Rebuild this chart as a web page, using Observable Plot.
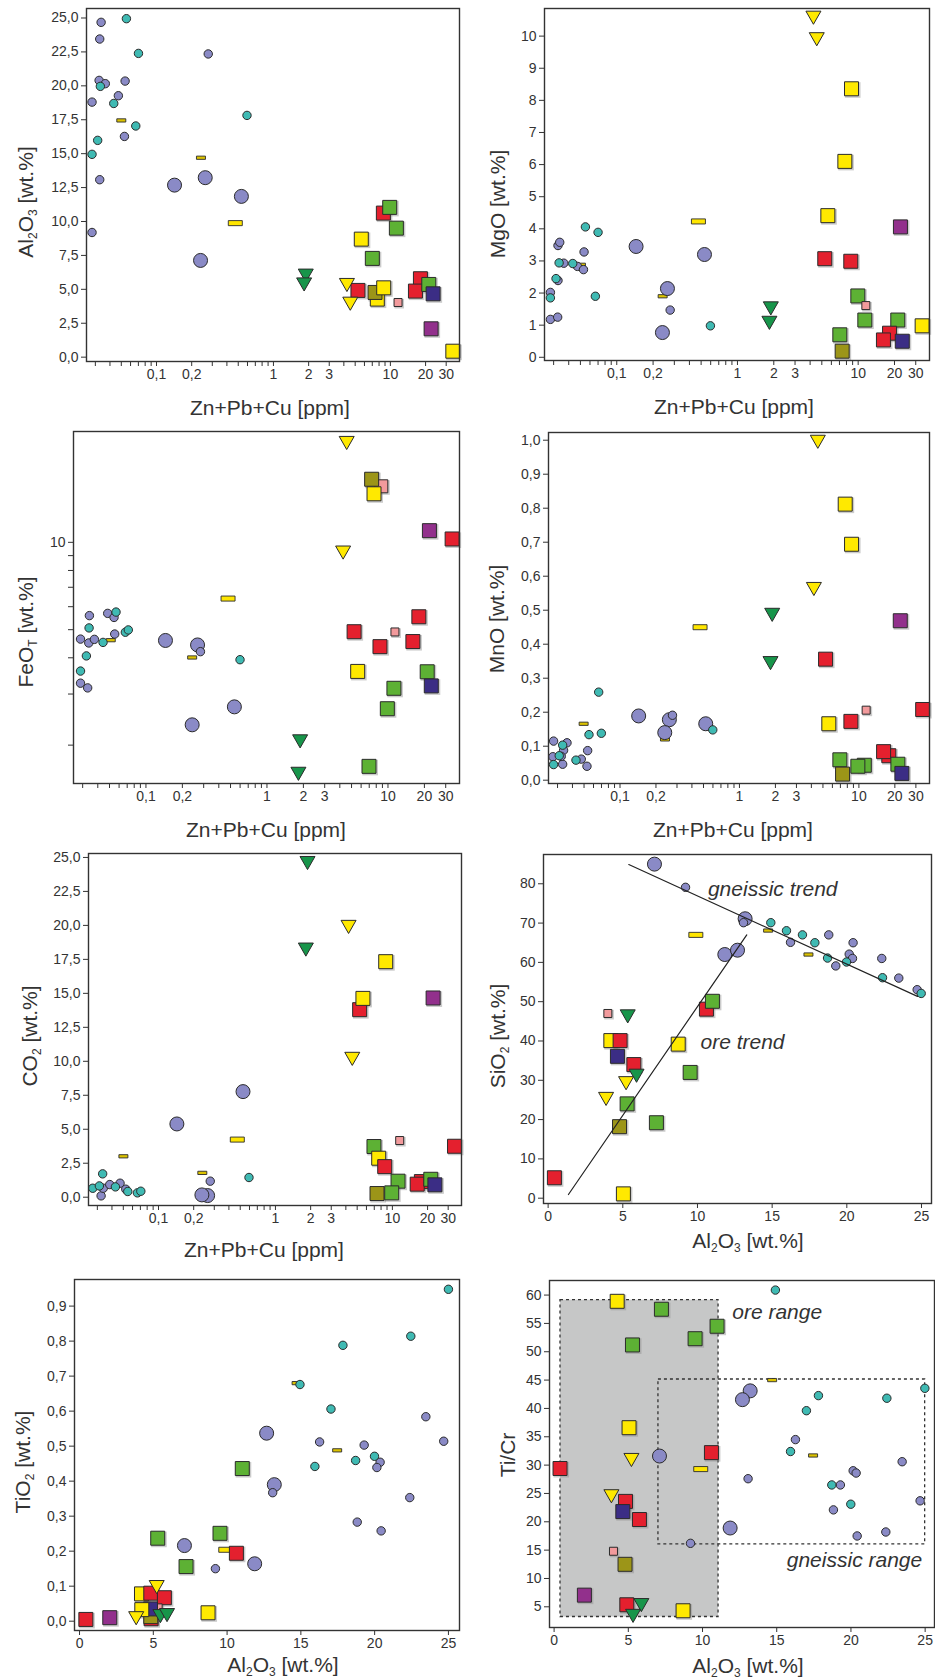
<!DOCTYPE html>
<html>
<head>
<meta charset="utf-8">
<script src="https://cdn.jsdelivr.net/npm/d3@7"></script>
<script src="https://cdn.jsdelivr.net/npm/@observablehq/plot@0.6"></script>
<style>
html, body { margin: 0; padding: 0; background: #fff; }
#page { position: relative; width: 935px; height: 1680px; overflow: hidden; background: #fff; font-family: "Liberation Sans", Arial, sans-serif; }
.panel { position: absolute; }
.panel svg { display: block; max-width: none !important; }
#titles { position: absolute; left: 0; top: 0; pointer-events: none; }
</style>
</head>
<body>
<div id="page"></div>
<script>
// ---------------- DATA (type code, x, y) ----------------
// type codes: GN big gneiss circle, gn small gneiss circle, tq teal circle,
// bL / bS yellow bars, sR sY sG sO sP sQ sM sB squares, tY tG down triangles

// Zn+Pb+Cu [ppm] vs Al2O3 [wt.%]
const zpc_al2o3 = [
  ["bS",0.050,17.45],["bS",0.240,14.7],["bL",0.472,9.88],
  ["GN",0.1426,12.68],["GN",0.261,13.23],["GN",0.532,11.85],["GN",0.238,7.13],
  ["gn",0.0336,24.68],["gn",0.0327,23.45],["gn",0.0323,20.4],["gn",0.0365,20.16],["gn",0.0539,20.35],["gn",0.0472,19.27],["gn",0.0281,18.8],["gn",0.0532,16.27],["gn",0.0327,13.08],["gn",0.0281,9.19],["gn",0.277,22.35],
  ["tq",0.0553,24.95],["tq",0.0701,22.39],["tq",0.0331,19.96],["tq",0.0431,18.7],["tq",0.0665,17.04],["tq",0.0314,15.98],["tq",0.0281,14.95],["tq",0.594,17.82],
  ["sY",5.64,8.7],["sG",7.01,7.28],["sR",8.71,10.62],["sG",9.87,11.04],["sG",11.25,9.51],["sR",5.28,4.92],["sY",7.73,4.28],["sO",7.39,4.77],["sY",8.77,5.11],["sP",11.63,4.03],["sR",18.07,5.78],["sR",16.38,4.87],["sG",21.3,5.36],["sB",23.2,4.67],["sM",22.3,2.09],["sY",34.2,0.44],
  ["tG",1.89,6.05],["tG",1.83,5.4],["tY",4.25,5.36],["tY",4.54,3.98]
];

// Zn+Pb+Cu [ppm] vs MgO [wt.%]
const zpc_mgo = [
  ["bS",0.0505,2.88],["bS",0.240,1.9],["bL",0.475,4.23],
  ["GN",0.1446,3.45],["GN",0.263,2.14],["GN",0.239,0.77],["GN",0.533,3.2],
  ["gn",0.0282,2.02],["gn",0.0282,1.18],["gn",0.0324,1.25],["gn",0.0326,3.48],["gn",0.0337,3.58],["gn",0.0364,2.93],["gn",0.0326,2.39],["gn",0.0472,2.83],["gn",0.0536,3.28],["gn",0.053,2.73],["gn",0.277,1.47],
  ["tq",0.0282,1.85],["tq",0.0314,2.45],["tq",0.0333,2.94],["tq",0.0432,2.92],["tq",0.055,4.06],["tq",0.070,3.89],["tq",0.0665,1.9],["tq",0.597,0.98],
  ["sY",8.81,8.36],["sY",7.76,6.1],["sY",5.61,4.41],["sR",5.29,3.07],["sR",8.69,2.99],["sM",22.4,4.06],["sG",9.94,1.91],["sP",11.58,1.61],["sG",11.36,1.16],["sG",21.3,1.16],["sG",7.05,0.7],["sO",7.37,0.19],["sR",18.2,0.75],["sR",16.2,0.54],["sB",23.2,0.5],["sY",33.9,0.98],
  ["tG",1.89,1.54],["tG",1.84,1.09],["tY",4.26,10.59],["tY",4.54,9.92]
];

// Zn+Pb+Cu [ppm] vs FeOT [wt.%]
const zpc_feot = [
  ["bS",0.0512,4.6],["bS",0.241,4.01],["bL",0.477,6.4],
  ["GN",0.145,4.59],["GN",0.267,4.43],["GN",0.241,2.35],["GN",0.538,2.71],
  ["gn",0.0288,4.64],["gn",0.0288,3.27],["gn",0.033,3.15],["gn",0.0337,4.5],["gn",0.0375,4.63],["gn",0.0341,5.59],["gn",0.0483,5.69],["gn",0.0545,5.51],["gn",0.0552,4.83],["gn",0.282,4.2],
  ["tq",0.0339,5.07],["tq",0.0322,4.06],["tq",0.0288,3.6],["tq",0.0442,4.52],["tq",0.0566,5.75],["tq",0.0676,4.9],["tq",0.0715,4.99],["tq",0.599,3.94],
  ["sQ",8.81,15.6],["sO",7.33,16.5],["sY",7.67,14.7],["sM",22.0,10.97],["sR",33.9,10.27],["sR",5.25,4.92],["sR",8.59,4.37],["sP",11.42,4.91],["sR",18.0,5.54],["sR",16.07,4.55],["sY",5.62,3.59],["sG",21.1,3.58],["sG",11.2,3.14],["sB",22.8,3.2],["sG",9.88,2.67],["sG",6.97,1.69],
  ["tG",1.88,2.07],["tG",1.82,1.6],["tY",4.56,22.1],["tY",4.26,9.26]
];

// Zn+Pb+Cu [ppm] vs MnO [wt.%]
const zpc_mno = [
  ["bS",0.0496,0.166],["bS",0.238,0.12],["bL",0.468,0.45],
  ["GN",0.1433,0.189],["GN",0.259,0.178],["GN",0.237,0.14],["GN",0.522,0.166],
  ["gn",0.0278,0.115],["gn",0.0274,0.069],["gn",0.0331,0.047],["gn",0.0337,0.088],["gn",0.036,0.11],["gn",0.0322,0.07],["gn",0.0474,0.062],["gn",0.0536,0.087],["gn",0.0529,0.041],["gn",0.275,0.191],
  ["tq",0.0331,0.103],["tq",0.031,0.072],["tq",0.0278,0.046],["tq",0.0428,0.059],["tq",0.055,0.134],["tq",0.0698,0.138],["tq",0.0663,0.259],["tq",0.598,0.148],
  ["sY",7.68,0.812],["sY",8.68,0.694],["sM",22.2,0.469],["sR",5.26,0.356],["sP",11.5,0.206],["sR",34.2,0.208],["sY",5.6,0.166],["sR",8.57,0.173],["sR",17.8,0.072],["sR",16.1,0.084],["sG",6.93,0.06],["sG",11.1,0.044],["sG",9.8,0.041],["sG",21.2,0.047],["sO",7.3,0.018],["sB",22.9,0.02],
  ["tG",1.88,0.488],["tG",1.82,0.346],["tY",4.53,0.997],["tY",4.2,0.564]
];

// Zn+Pb+Cu [ppm] vs CO2 [wt.%]
const zpc_co2 = [
  ["bS",0.0501,3.01],["bS",0.237,1.79],["bL",0.472,4.24],
  ["GN",0.1436,5.39],["GN",0.528,7.77],["GN",0.263,0.12],["GN",0.235,0.17],
  ["gn",0.0323,0.1],["gn",0.0337,0.66],["gn",0.0383,0.93],["gn",0.0469,1.03],["gn",0.0525,0.59],["gn",0.277,1.18],
  ["tq",0.0274,0.66],["tq",0.0312,0.83],["tq",0.0333,1.72],["tq",0.0428,0.76],["tq",0.0546,0.42],["tq",0.066,0.32],["tq",0.0706,0.44],["tq",0.594,1.45],
  ["sY",8.77,17.33],["sR",5.25,13.8],["sY",5.6,14.63],["sM",22.3,14.66],["sP",11.55,4.17],["sR",34.0,3.75],["sG",6.96,3.73],["sY",7.64,2.87],["sR",8.6,2.25],["sG",11.18,1.18],["sR",17.7,1.15],["sR",16.3,0.96],["sG",21.3,1.32],["sB",23.1,0.91],["sO",7.39,0.27],["sG",9.87,0.32],
  ["tG",1.88,24.63],["tG",1.82,18.26],["tY",4.22,19.93],["tY",4.54,10.22]
];

// Al2O3 [wt.%] vs SiO2 [wt.%]
const al2o3_sio2 = [
  ["bL",9.89,67.0],["bS",14.73,68.1],["bS",17.43,62.0],
  ["GN",7.12,85.0],["GN",13.19,71.1],["GN",11.83,62.0],["GN",12.68,63.1],
  ["gn",9.2,79.1],["gn",13.08,70.1],["gn",16.23,65.1],["gn",18.79,67.0],["gn",20.16,62.1],["gn",20.42,65.0],["gn",20.38,61.0],["gn",19.26,59.1],["gn",22.34,61.0],["gn",23.48,56.0],["gn",24.71,53.05],
  ["tq",14.91,70.1],["tq",15.96,68.05],["tq",17.03,67.0],["tq",17.86,65.0],["tq",18.71,61.1],["tq",19.98,60.1],["tq",22.39,56.1],["tq",24.98,52.1],
  ["sP",4.0,47.0],["sY",4.2,40.1],["sR",4.82,40.1],["sB",4.64,36.1],["sR",5.74,34.0],["sG",5.29,24.0],["sO",4.78,18.2],["sY",5.04,1.1],["sR",0.42,5.2],["sY",8.71,39.2],["sG",9.51,32.0],["sG",7.25,19.2],["sR",10.6,48.1],["sG",11.0,50.1],
  ["tG",5.33,46.4],["tG",5.92,31.3],["tY",5.22,29.4],["tY",3.88,25.4]
];
const gneissicTrend = [[5.4,84.9],[24.73,51.35]];
const oreTrend = [[1.36,0.94],[13.3,67.0]];
const trendLabels = [[10.7,78.5,"gneissic trend"],[10.2,39.6,"ore trend"]];

// Al2O3 [wt.%] vs TiO2 [wt.%]
const al2o3_tio2 = [
  ["bS",14.71,0.68],["bS",17.46,0.488],["bL",9.91,0.204],
  ["GN",12.68,0.537],["GN",13.2,0.39],["GN",7.11,0.216],["GN",11.87,0.164],
  ["gn",23.47,0.584],["gn",24.68,0.514],["gn",16.27,0.512],["gn",19.29,0.503],["gn",20.37,0.454],["gn",20.15,0.439],["gn",22.38,0.353],["gn",18.82,0.283],["gn",20.44,0.258],["gn",13.09,0.367],["gn",9.21,0.15],
  ["tq",25.0,0.948],["tq",22.45,0.814],["tq",17.85,0.788],["tq",14.94,0.676],["tq",17.04,0.606],["tq",15.95,0.442],["tq",18.71,0.459],["tq",19.99,0.471],
  ["sG",11.03,0.436],["sG",9.52,0.251],["sG",5.3,0.237],["sG",7.22,0.156],["sR",10.63,0.194],["sR",4.85,0.007],["sO",4.83,0.013],["sY",4.2,0.078],["sR",4.83,0.08],["sR",5.75,0.067],["sP",5.33,0.038],["sB",4.81,0.035],["sY",4.22,0.033],["sY",8.71,0.024],["sR",0.43,0.005],["sM",2.05,0.01],
  ["tY",5.23,0.099],["tY",3.84,0.01],["tG",5.48,0.016],["tG",5.93,0.019]
];

// Al2O3 [wt.%] vs Ti/Cr
const al2o3_ticr = [
  ["bS",14.69,45.0],["bS",17.45,31.7],["bL",9.88,29.3],
  ["GN",13.21,43.1],["GN",12.69,41.55],["GN",7.1,31.6],["GN",11.86,18.9],
  ["gn",16.26,34.5],["gn",23.45,30.6],["gn",20.15,29.0],["gn",20.35,28.6],["gn",19.29,26.5],["gn",13.07,27.6],["gn",24.66,23.7],["gn",18.82,22.1],["gn",22.35,18.2],["gn",20.42,17.5],["gn",9.19,16.2],
  ["tq",14.91,60.88],["tq",17.81,42.26],["tq",17.0,39.6],["tq",22.42,41.8],["tq",24.98,43.55],["tq",15.93,32.4],["tq",18.71,26.5],["tq",19.99,23.1],
  ["sY",4.25,58.9],["sG",7.23,57.5],["sG",10.98,54.5],["sG",9.5,52.3],["sG",5.28,51.2],["sY",5.05,36.6],["sR",10.6,32.2],["sR",0.4,29.4],["sR",4.81,23.6],["sB",4.63,21.8],["sR",5.75,20.4],["sP",4.0,14.8],["sO",4.78,12.5],["sM",2.04,7.06],["sR",4.9,5.36],["sY",8.69,4.3],
  ["tY",5.21,31.0],["tY",3.86,24.6],["tG",5.88,5.4],["tG",5.32,3.5]
];
const oreRange = [[0.43,11.08,3.2,59.1]];
const gneissicRange = [[7.03,25.0,16.0,45.1]];
const rangeLabelsStart = [[12.0,57.0,"ore range"]];
const rangeLabelsEnd = [[24.8,13.3,"gneissic range"]];

// ticks
const zpcTicks = [0.03,0.04,0.05,0.06,0.07,0.08,0.09,0.1,0.2,0.3,0.4,0.5,0.6,0.7,0.8,0.9,1,2,3,4,5,6,7,8,9,10,20,30];
const zpcLabeled = [0.1,0.2,1,2,3,4,5,10,20,30];
const ticks25 = [0,2.5,5,7.5,10,12.5,15,17.5,20,22.5,25];
const ticksMgO = [0,1,2,3,4,5,6,7,8,9,10];
const ticksFeO = [2,3,4,5,6,7,8,9,10];
const ticksFeOLabeled = [10];
const ticksMnO = [0,0.1,0.2,0.3,0.4,0.5,0.6,0.7,0.8,0.9,1.0];
const ticksAlX = [0,5,10,15,20,25];
const ticksSiO2 = [0,10,20,30,40,50,60,70,80];
const ticksTiO2 = [0,0.1,0.2,0.3,0.4,0.5,0.6,0.7,0.8,0.9];
const ticksTiCr = [5,10,15,20,25,30,35,40,45,50,55,60];

// ---------------- STYLES ----------------
const SHAPES = {
  bL: {shape: "bar", r: 7, fill: "#ffe600"},
  bS: {shape: "bar", r: 4.5, fill: "#dcc300"},
  GN: {shape: "circle", r: 7, fill: "#8a8ac6"},
  gn: {shape: "circle", r: 4.2, fill: "#8a8ac6"},
  tq: {shape: "circle", r: 4.2, fill: "#3fbab3"},
  sR: {shape: "square", r: 7, fill: "#e4202e"},
  sY: {shape: "square", r: 7, fill: "#ffe900"},
  sG: {shape: "square", r: 7, fill: "#5db134"},
  sO: {shape: "square", r: 7, fill: "#9c9518"},
  sP: {shape: "square", r: 4, fill: "#f29a9c"},
  sQ: {shape: "square", r: 6.5, fill: "#f29a9c"},
  sM: {shape: "square", r: 7, fill: "#92308c"},
  sB: {shape: "square", r: 7, fill: "#3b2d85"},
  tY: {shape: "tri", r: 7.5, fill: "#ffe900"},
  tG: {shape: "tri", r: 7.5, fill: "#17954a"}
};
const rOf = size => Math.sqrt(size / Math.PI);
const squareSym = {draw(c, size) { const h = rOf(size); c.moveTo(-h, -h); c.lineTo(h, -h); c.lineTo(h, h); c.lineTo(-h, h); c.closePath(); }};
const barSym = {draw(c, size) { const h = rOf(size), v = h * 0.36; c.moveTo(-h, -v); c.lineTo(h, -v); c.lineTo(h, v); c.lineTo(-h, v); c.closePath(); }};
const triSym = {draw(c, size) { const h = rOf(size); c.moveTo(-h, -h * 0.8); c.lineTo(h, -h * 0.8); c.lineTo(0, h * 0.95); c.closePath(); }};

const fmt1 = d => d.toFixed(1).replace(".", ",");
const fmtZpc = d => zpcLabeled.includes(d) ? String(d).replace(".", ",") : "";
const zpcDomain = [0.0252, 39];
const INK = "#2b2b2b";

function pointMarks(rows) {
  const S = t => SHAPES[t];
  const by = shape => rows.filter(d => S(d[0]).shape === shape);
  const common = {x: d => d[1], y: d => d[2], r: d => S(d[0]).r, fill: d => S(d[0]).fill, stroke: INK, strokeWidth: 1, sort: null};
  return [
    Plot.dot(by("bar"), {...common, symbol: barSym, strokeWidth: 0.9}),
    Plot.dot(by("circle"), {...common}),
    Plot.dot(by("square"), {x: d => d[1], y: d => d[2], r: d => S(d[0]).r + 0.8, symbol: squareSym, fill: "#8c8c8c", fillOpacity: 0.45, dx: 1.2, dy: 1.2, sort: null}),
    Plot.dot(by("square"), {...common, symbol: squareSym}),
    Plot.dot(by("tri"), {...common, symbol: triSym})
  ];
}

const logX = {type: "log", domain: zpcDomain, ticks: zpcTicks, tickFormat: fmtZpc};
const alX = d => ({domain: d, ticks: ticksAlX, tickFormat: v => String(v)});

const panelSpecs = [
  {rows: zpc_al2o3, col: 0, frame: [86, 8, 459, 361], x: logX, y: {domain: [-0.32, 25.7], ticks: ticks25, tickFormat: fmt1}},
  {rows: zpc_mgo, col: 1, frame: [544, 8, 929, 360], x: logX, y: {domain: [-0.1, 10.86], ticks: ticksMgO, tickFormat: v => String(v)}},
  {rows: zpc_feot, col: 0, frame: [73, 431, 459, 783], x: logX, y: {type: "log", domain: [1.475, 24.1], ticks: ticksFeO, tickFormat: v => ticksFeOLabeled.includes(v) ? String(v) : ""}},
  {rows: zpc_mno, col: 1, frame: [548, 432, 929, 783], x: logX, y: {domain: [-0.0097, 1.0227], ticks: ticksMnO, tickFormat: fmt1}},
  {rows: zpc_co2, col: 0, frame: [88, 853, 461, 1205], x: logX, y: {domain: [-0.61, 25.29], ticks: ticks25, tickFormat: fmt1}},
  {rows: al2o3_sio2, col: 1, frame: [543, 854, 931, 1203], x: alX([-0.31, 25.67]), y: {domain: [-1.35, 87.45], ticks: ticksSiO2, tickFormat: v => String(v)},
    over: [
      Plot.line(gneissicTrend, {x: d => d[0], y: d => d[1], stroke: "#222", strokeWidth: 1.2}),
      Plot.line(oreTrend, {x: d => d[0], y: d => d[1], stroke: "#222", strokeWidth: 1.2}),
      Plot.text(trendLabels, {x: d => d[0], y: d => d[1], text: d => d[2], textAnchor: "start", fontSize: 21, fontStyle: "italic", fill: "#333"})
    ]},
  {rows: al2o3_tio2, col: 0, frame: [74, 1279, 459, 1630], x: alX([-0.34, 25.75]), y: {domain: [-0.0266, 0.976], ticks: ticksTiO2, tickFormat: fmt1}},
  {rows: al2o3_ticr, col: 1, frame: [549, 1280, 934, 1627], x: alX([-0.31, 25.63]), y: {domain: [1.35, 62.57], ticks: ticksTiCr, tickFormat: v => String(v)},
    under: [
      Plot.rect(oreRange, {x1: d => d[0], x2: d => d[1], y1: d => d[2], y2: d => d[3], fill: "#c6c7c7", stroke: "#333", strokeWidth: 1.3, strokeDasharray: "3,3"}),
      Plot.rect(gneissicRange, {x1: d => d[0], x2: d => d[1], y1: d => d[2], y2: d => d[3], fill: "none", stroke: "#333", strokeWidth: 1.3, strokeDasharray: "3,3"}),
      Plot.text(rangeLabelsStart, {x: d => d[0], y: d => d[1], text: d => d[2], textAnchor: "start", fontSize: 21, fontStyle: "italic", fill: "#333"}),
      Plot.text(rangeLabelsEnd, {x: d => d[0], y: d => d[1], text: d => d[2], textAnchor: "end", fontSize: 21, fontStyle: "italic", fill: "#333"})
    ]}
];

const page = document.getElementById("page");
const MT = 6, MB = 30;
for (const p of panelSpecs) {
  const [fl, ft, fr, fb] = p.frame;
  const svgL = p.col === 0 ? 0 : 467;
  const svgW = p.col === 0 ? 467 : 468;
  const chart = Plot.plot({
    width: svgW,
    height: (fb - ft) + MT + MB,
    marginLeft: fl - svgL,
    marginRight: svgL + svgW - fr,
    marginTop: MT,
    marginBottom: MB,
    style: {fontFamily: '"Liberation Sans", Arial, sans-serif', fontSize: "14px", color: "#333", background: "transparent", overflow: "visible"},
    x: {...p.x, tickSize: 5, tickPadding: 3, label: null},
    y: {...p.y, tickSize: 5, tickPadding: 3, label: null},
    color: {type: "identity"},
    r: {type: "identity"},
    marks: [
      ...(p.under || []),
      ...pointMarks(p.rows),
      ...(p.over || []),
      Plot.frame({stroke: "#333", strokeWidth: 1.4})
    ]
  });
  const wrap = document.createElement("div");
  wrap.className = "panel";
  wrap.style.left = svgL + "px";
  wrap.style.top = (ft - MT) + "px";
  wrap.style.width = svgW + "px";
  wrap.appendChild(chart);
  page.appendChild(wrap);
}

// ---------------- axis titles (with subscripts) ----------------
function rich(parts) {
  let out = "", shifted = false;
  for (const part of parts) {
    if (Array.isArray(part)) { out += `<tspan dy="${shifted ? 0 : 4}" font-size="12">${part[0]}</tspan>`; shifted = true; }
    else { out += `<tspan dy="${shifted ? -4 : 0}">${part}</tspan>`; shifted = false; }
  }
  return out;
}
const ZPC = ["Zn+Pb+Cu [ppm]"];
const AL = ["Al", ["2"], "O", ["3"], " [wt.%]"];
const xTitles = [
  [270, 415, ZPC], [734, 414, ZPC], [266, 837, ZPC], [733, 837, ZPC],
  [264, 1257, ZPC], [748, 1248, AL], [283, 1672, AL], [748, 1673, AL]
];
const yTitles = [
  [33, 202, AL], [505, 204, ["MgO [wt.%]"]], [33, 632, ["FeO", ["T"], " [wt.%]"]], [504, 619, ["MnO [wt.%]"]],
  [37, 1036, ["CO", ["2"], " [wt.%]"]], [505, 1036, ["SiO", ["2"], " [wt.%]"]], [30, 1462, ["TiO", ["2"], " [wt.%]"]], [515, 1455, ["Ti/Cr"]]
];
let svg = `<svg id="titles" width="935" height="1680" xmlns="http://www.w3.org/2000/svg" font-family="Liberation Sans, Arial, sans-serif" font-size="21" fill="#333">`;
for (const [x, y, t] of xTitles) svg += `<text x="${x}" y="${y}" text-anchor="middle">${rich(t)}</text>`;
for (const [x, y, t] of yTitles) svg += `<text transform="translate(${x},${y}) rotate(-90)" text-anchor="middle">${rich(t)}</text>`;
svg += `</svg>`;
page.insertAdjacentHTML("beforeend", svg);
</script>
</body>
</html>
